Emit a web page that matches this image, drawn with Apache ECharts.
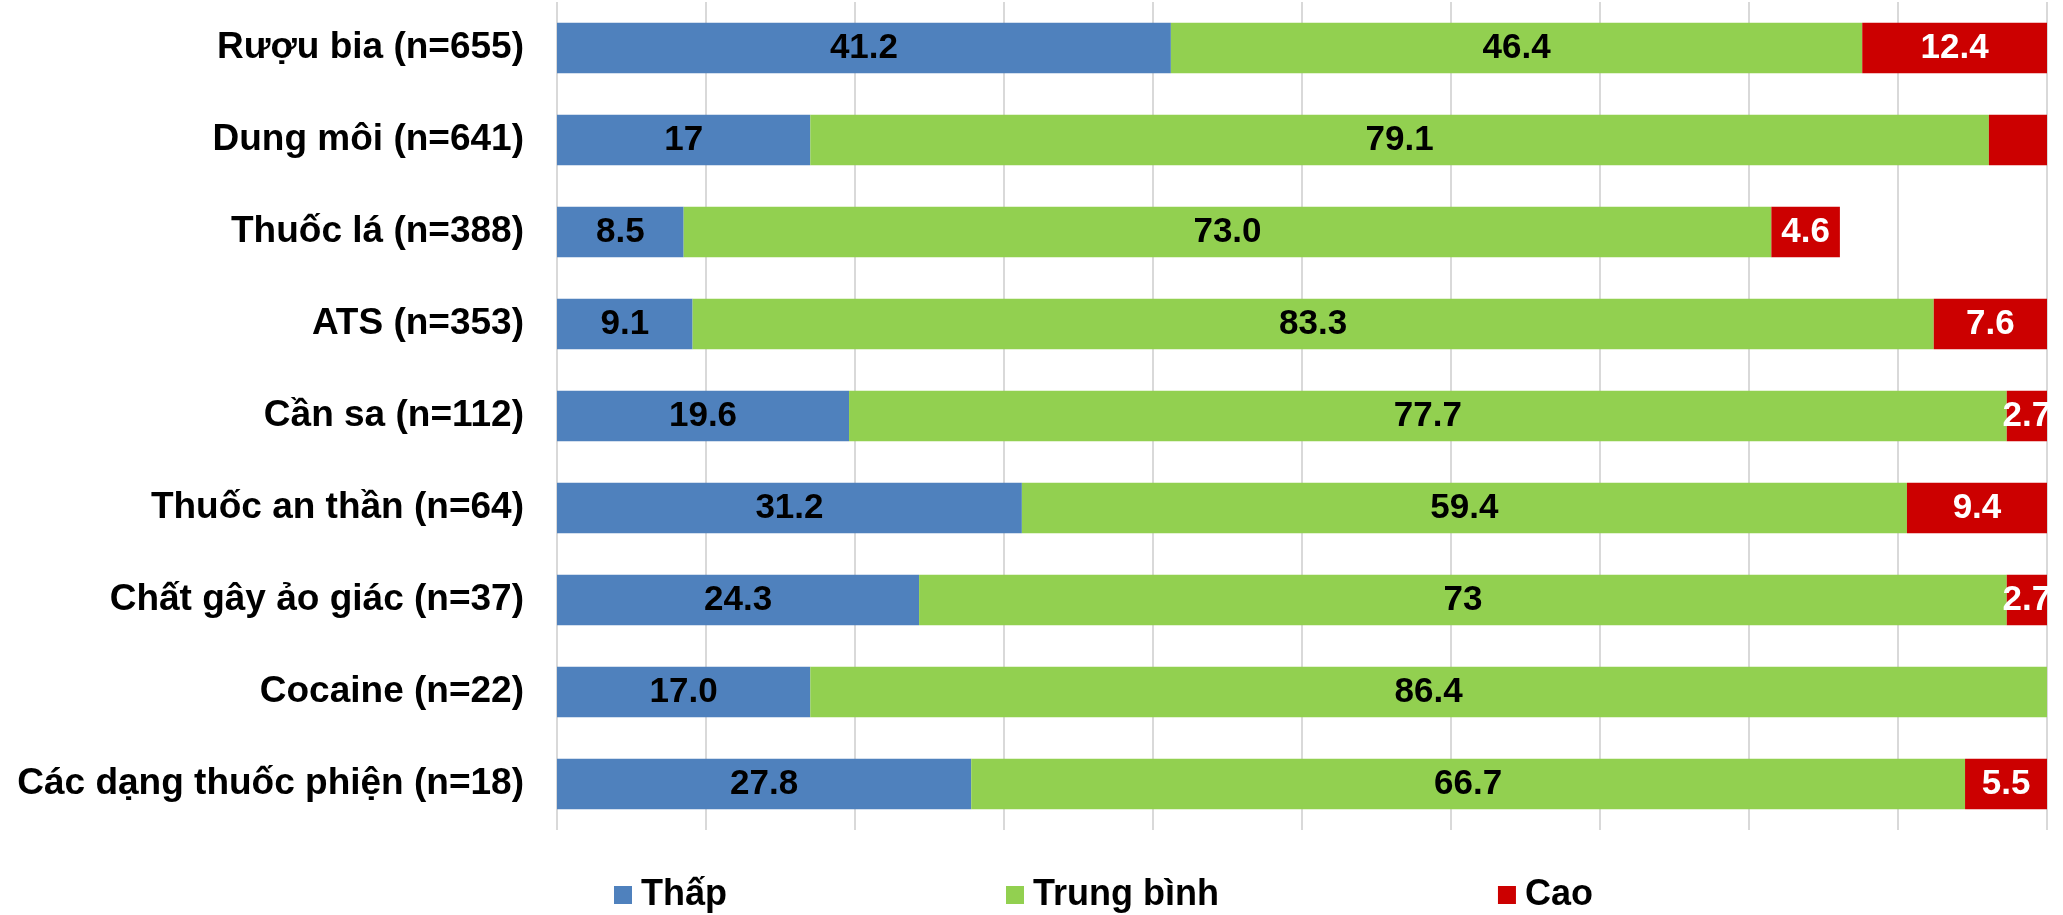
<!DOCTYPE html>
<html>
<head>
<meta charset="utf-8">
<script src="https://cdn.jsdelivr.net/npm/echarts@6/dist/echarts.min.js"></script>
<style>
  html, body { margin: 0; padding: 0; background: #ffffff; }
  #chart { width: 2063px; height: 915px; }
</style>
</head>
<body>
<div id="chart"></div>
<script>
// Substance groups, top to bottom
const categories = [
  'Rượu bia (n=655)',
  'Dung môi (n=641)',
  'Thuốc lá (n=388)',
  'ATS (n=353)',
  'Cần sa (n=112)',
  'Thuốc an thần (n=64)',
  'Chất gây ảo giác (n=37)',
  'Cocaine (n=22)',
  'Các dạng thuốc phiện (n=18)'
];

const seriesNames = ['Thấp', 'Trung bình', 'Cao'];

// Percentages per level
const lowValues = [41.2, 17, 8.5, 9.1, 19.6, 31.2, 24.3, 17.0, 27.8];
const midValues = [46.4, 79.1, 73.0, 83.3, 77.7, 59.4, 73, 86.4, 66.7];
const highValues = [12.4, 3.9, 4.6, 7.6, 2.7, 9.4, 2.7, 0, 5.5];

// Decimal places shown in each label (null = no label)
const lowDigits = [1, 0, 1, 1, 1, 1, 1, 1, 1];
const midDigits = [1, 1, 1, 1, 1, 1, 0, 1, 1];
const highDigits = [1, null, 1, 1, 1, 1, 1, 0, 1];

const axisTicks = [0, 10, 20, 30, 40, 50, 60, 70, 80, 90, 100];

const colors = ['#4F81BD', '#92D050', '#CC0000'];
const labelColors = ['#000000', '#000000', '#ffffff'];
const FONT = '"Liberation Sans", Arial, sans-serif';

function buildSeries(idx, values, digits) {
  return {
    name: seriesNames[idx],
    type: 'bar',
    stack: 'total',
    barWidth: '55%',
    clip: true,
    itemStyle: { color: colors[idx] },
    emphasis: { disabled: true },
    label: {
      show: true,
      position: 'inside',
      color: labelColors[idx],
      fontFamily: FONT,
      fontWeight: 'bold',
      fontSize: 35,
      formatter: function (p) {
        const d = digits[p.dataIndex];
        return d === null ? '' : values[p.dataIndex].toFixed(d);
      }
    },
    data: values
  };
}

const chart = echarts.init(document.getElementById('chart'), null, { renderer: 'canvas' });

chart.setOption({
  animation: false,
  backgroundColor: '#ffffff',
  grid: { left: 557, right: 16, top: 2, bottom: 85, containLabel: false },
  legend: {
    data: seriesNames,
    left: 609,
    top: 872,
    itemWidth: 18,
    itemHeight: 18,
    itemGap: 279,
    icon: 'rect',
    textStyle: {
      fontFamily: FONT,
      fontWeight: 'bold',
      fontSize: 36,
      color: '#000000',
      padding: [0, 0, 0, 4]
    }
  },
  xAxis: {
    type: 'value',
    min: axisTicks[0],
    max: axisTicks[axisTicks.length - 1],
    interval: axisTicks[1] - axisTicks[0],
    axisLine: { show: false },
    axisTick: { show: false },
    axisLabel: { show: false },
    splitLine: { show: true, lineStyle: { color: '#d9d9d9', width: 2 } }
  },
  yAxis: {
    type: 'category',
    inverse: true,
    data: categories,
    axisLine: { show: false },
    axisTick: { show: false },
    axisLabel: {
      margin: 33,
      color: '#000000',
      fontFamily: FONT,
      fontWeight: 'bold',
      fontSize: 37
    }
  },
  series: [
    buildSeries(0, lowValues, lowDigits),
    buildSeries(1, midValues, midDigits),
    buildSeries(2, highValues, highDigits)
  ]
});
</script>
</body>
</html>
